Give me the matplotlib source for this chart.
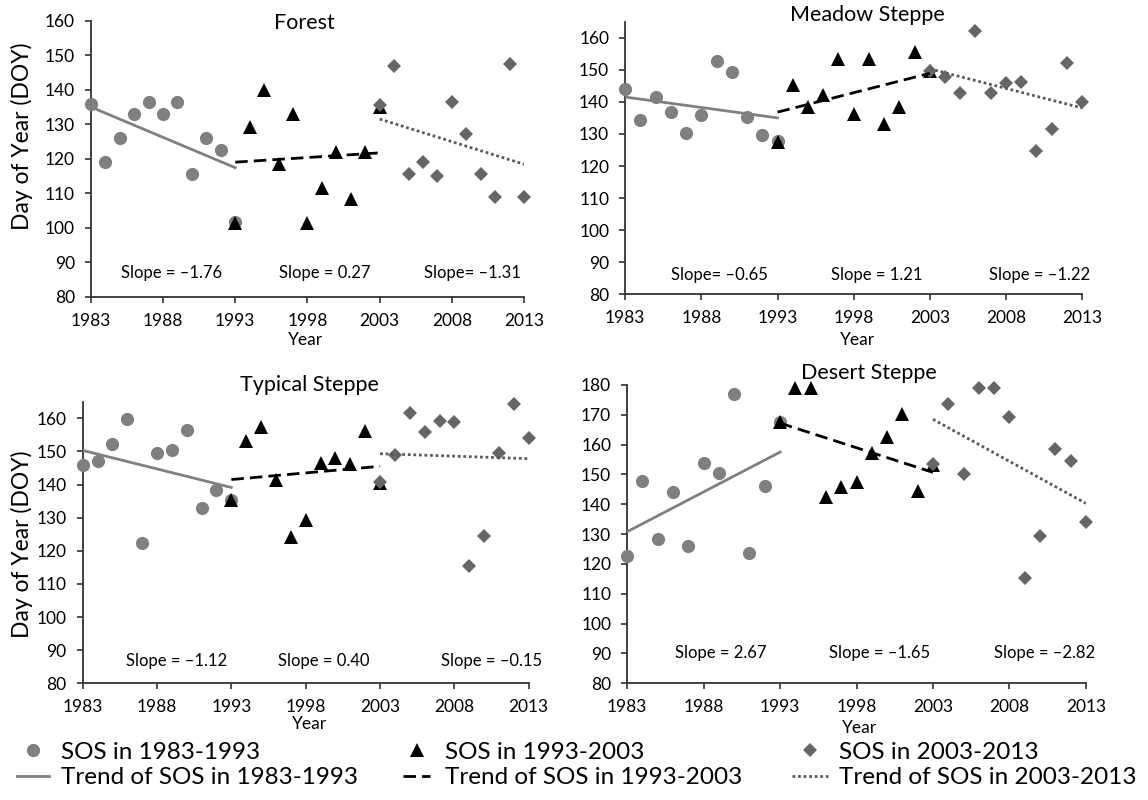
import matplotlib.pyplot as plt
from matplotlib.lines import Line2D

plt.rcParams['font.family'] = ['Lato', 'DejaVu Sans']

# years of each period
yrs_a = [1983, 1984, 1985, 1986, 1987, 1988, 1989, 1990, 1991, 1992, 1993]
yrs_b = [1993, 1994, 1995, 1996, 1997, 1998, 1999, 2000, 2001, 2002, 2003]
yrs_c = [2003, 2004, 2005, 2006, 2007, 2008, 2009, 2010, 2011, 2012, 2013]

# SOS (DOY)
forest_a = [136, 119, 126, 133, 136.5, 133, 136.5, 115.5, 126, 122.5, 101.7]
forest_b = [101.5, 129.3, 139.9, 118.6, 133, 101.3, 111.4, 122, 108.2, 122, 135]
forest_c = [135.5, 147, 115.5, 119, 115, 136.3, 127.3, 115.5, 109, 147.4, 109]

meadow_a = [144, 134.4, 141.5, 136.8, 130.3, 135.8, 152.6, 149.4, 135.2, 129.8, 127.8]
meadow_b = [127.5, 145.4, 138.5, 142, 153.4, 136.3, 153.4, 133.2, 138.5, 155.4, 149.5]
meadow_c = [149.7, 147.7, 142.7, 162.2, 142.7, 145.9, 146.2, 124.6, 131.6, 152.2, 139.9]

typical_a = [146, 147, 152.1, 159.7, 122.2, 149.4, 150.3, 156.5, 133, 138.2, 135.4]
typical_b = [135.2, 153, 157.3, 141.4, 124.2, 129.2, 146.5, 148.1, 146.3, 156.3, 140.4]
typical_c = [140.9, 148.8, 161.7, 155.7, 159.1, 159, 115.3, 124.4, 149.5, 164.4, 154]

desert_a = [122.5, 147.8, 128.4, 144, 126.1, 153.7, 150.6, 176.9, 123.6, 146.1, 167.7]
desert_b = [167.5, 178.9, 178.9, 142.3, 145.7, 147.6, 157.3, 162.5, 170.2, 144.6, 153.2]
desert_c = [153.5, 173.5, 150.1, 179.1, 179.1, 169.2, 115.2, 129.5, 158.4, 154.6, 134]

# trend line start / end values
forest_trend = [(135, 117.4), (119, 121.7), (131.5, 118.4)]
meadow_trend = [(141.5, 135.0), (136.8, 148.9), (150.3, 138.1)]
typical_trend = [(150.3, 139.1), (141.5, 145.5), (149.3, 147.8)]
desert_trend = [(130.8, 157.5), (167.2, 150.7), (168.5, 140.3)]

forest_slopes = ['Slope = \u20131.76', 'Slope = 0.27', 'Slope= \u20131.31']
meadow_slopes = ['Slope= \u20130.65', 'Slope = 1.21', 'Slope = \u20131.22']
typical_slopes = ['Slope = \u20131.12', 'Slope = 0.40', 'Slope = \u20130.15']
desert_slopes = ['Slope = 2.67', 'Slope = \u20131.65', 'Slope = \u20132.82']

titles = ['Forest', 'Meadow Steppe', 'Typical Steppe', 'Desert Steppe']
legend_labels = ['SOS in 1983-1993', 'SOS in 1993-2003', 'SOS in 2003-2013',
                 'Trend of SOS in 1983-1993', 'Trend of SOS in 1993-2003',
                 'Trend of SOS in 2003-2013']

c_circle = '#808080'
c_tri = '#000000'
c_dia = '#666666'
c_dot = '#5a5a5a'
marker_sty = [dict(marker='o', color=c_circle, ms=9.5),
              dict(marker='^', color=c_tri, ms=9.5),
              dict(marker='D', color=c_dia, ms=7.5)]
line_sty = [dict(color=c_circle, lw=2, ls='-'),
            dict(color=c_tri, lw=2, ls=(0, (4.5, 2.2))),
            dict(color=c_dot, lw=2, ls=(0, (1, 1)))]

fig = plt.figure(figsize=(11.48, 8), dpi=100)

panels = [
    ([0.0791, 0.6291, 0.3774, 0.345], 160, [forest_a, forest_b, forest_c], forest_trend, forest_slopes,
     [1988.6, 1999.2, 2009.4], 87, (0.494, 0.993)),
    ([0.5446, 0.6321, 0.398, 0.3408], 165, [meadow_a, meadow_b, meadow_c], meadow_trend, meadow_slopes,
     [1989.2, 1999.5, 2010.2], 86, (0.53, 1.023)),
    ([0.072, 0.1459, 0.3886, 0.352], 165, [typical_a, typical_b, typical_c], typical_trend, typical_slopes,
     [1989.3, 1999.2, 2010.5], 86.8, (0.508, 1.061)),
    ([0.5463, 0.1459, 0.3996, 0.3729], 180, [desert_a, desert_b, desert_c], desert_trend, desert_slopes,
     [1989.1, 1999.5, 2010.3], 90.1, (0.527, 1.039)),
]

yrs = [yrs_a, yrs_b, yrs_c]
for i, (rect, ytop, vals, trends, slopes, sx, sy, tpos) in enumerate(panels):
    ax = fig.add_axes(rect)
    for k in range(3):
        ax.plot(yrs[k], vals[k], ls='none', mew=0, clip_on=False, zorder=3 + k, **marker_sty[k])
    for k in range(3):
        ax.plot([yrs[k][0], yrs[k][-1]], list(trends[k]), zorder=7, **line_sty[k])
    for k in range(3):
        ax.text(sx[k], sy, slopes[k], ha='center', va='center', fontsize=12)
    ax.text(tpos[0], tpos[1], titles[i], transform=ax.transAxes, ha='center', va='center', fontsize=15.5)
    ax.set_xlim(1983, 2013)
    ax.set_ylim(80, ytop)
    ax.set_xticks(range(1983, 2014, 5))
    ax.set_yticks(range(80, ytop + 1, 10))
    for s in ['top', 'right']:
        ax.spines[s].set_visible(False)
    for s in ['left', 'bottom']:
        ax.spines[s].set_color('#333333')
        ax.spines[s].set_linewidth(1.3)
    ax.tick_params(direction='out', length=4.5, width=1.2, color='#333333', labelsize=12.5, pad=7)

# axis labels
fig.text(21.5 / 1148, 1 - 136.7 / 800, 'Day of Year (DOY)', rotation=90, ha='center', va='center', fontsize=16.5)
fig.text(21.5 / 1148, 1 - 543.8 / 800, 'Day of Year (DOY)', rotation=90, ha='center', va='center', fontsize=16.5)
fig.text(305 / 1148, 1 - 340 / 800, 'Year', ha='center', va='center', fontsize=12.5)
fig.text(858 / 1148, 1 - 340 / 800, 'Year', ha='center', va='center', fontsize=12.5)
fig.text(309 / 1148, 1 - 724 / 800, 'Year', ha='center', va='center', fontsize=12.5)
fig.text(860 / 1148, 1 - 728 / 800, 'Year', ha='center', va='center', fontsize=12.5)

# legend: one block per period
leg_x = [17, 403, 792]
leg_hl = [1.3, 1.12, 1.5]
leg_pad = [0.5, 0.62, 0.42]
for k in range(3):
    h_m = Line2D([], [], ls='none', mew=0, **marker_sty[k])
    h_l = Line2D([], [], **line_sty[k])
    fig.legend(handles=[h_m, h_l], labels=[legend_labels[k], legend_labels[k + 3]],
               loc='center left', bbox_to_anchor=(leg_x[k] / 1148, 1 - 765 / 800),
               frameon=False, fontsize=17.5, handlelength=leg_hl[k], handletextpad=leg_pad[k],
               borderpad=0, borderaxespad=0, labelspacing=0.2)

plt.savefig('out.png', dpi=100)
